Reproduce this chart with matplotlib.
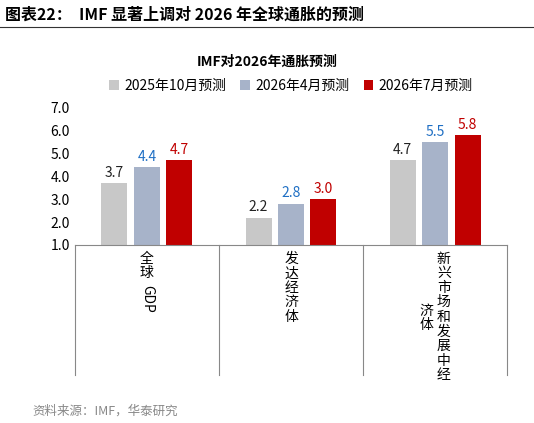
import matplotlib
matplotlib.use("Agg")
import matplotlib.pyplot as plt
import numpy as np

plt.rcParams["font.family"] = ["Noto Sans CJK SC", "DejaVu Sans"]

# ── Data ──────────────────────────────────────────────────────────────────
series_names = ["2025年10月预测", "2026年4月预测", "2026年7月预测"]
oct_2025 = [3.7, 2.2, 4.7]
apr_2026 = [4.4, 2.8, 5.5]
jul_2026 = [4.7, 3.0, 5.8]
colors = ["#C8C8C8", "#A7B3C9", "#C00000"]
label_colors = ["#222222", "#1F6FC4", "#C00000"]

fig = plt.figure(figsize=(5.34, 4.23), dpi=100)
ax = fig.add_axes([0.14, 0.421, 0.81, 0.324])

x = np.arange(3)
w, off = 0.18, 0.225
for k, vals in enumerate([oct_2025, apr_2026, jul_2026]):
    pos = x + (k - 1) * off
    ax.bar(pos, np.array(vals) - 1.0, bottom=1.0, width=w, color=colors[k],
           label=series_names[k])
    for p, v in zip(pos, vals):
        ax.text(p, v + 0.15, f"{v:.1f}", ha="center", va="bottom",
                fontsize=10, color=label_colors[k])

ax.set_xlim(-0.5, 2.5)
ax.set_ylim(1.0, 7.0)
ax.set_yticks(np.arange(1.0, 7.01, 1.0))
ax.set_yticklabels([f"{v:.1f}" for v in np.arange(1.0, 7.01, 1.0)], fontsize=10)
ax.set_xticks([])
for s in ["top", "right", "left"]:
    ax.spines[s].set_visible(False)
ax.spines["bottom"].set_color("#888888")
ax.tick_params(axis="y", length=0)

# group separators
for b in [-0.5, 0.5, 1.5, 2.5]:
    ax.plot([b, b], [0, -0.95], transform=ax.get_xaxis_transform(),
            color="#888888", lw=0.8, clip_on=False)

# vertical category labels
tr = ax.get_xaxis_transform()
ax.text(0, -0.05, "全\n球", ha="center", va="top", fontsize=10,
        linespacing=1.05, transform=tr)
ax.text(0, -0.29, "GDP", ha="center", va="top", fontsize=10, rotation=-90,
        transform=tr)
ax.text(1, -0.05, "\n".join("发达经济体"), ha="center", va="top", fontsize=10,
        linespacing=1.05, transform=tr)
ax.text(2.06, -0.05, "\n".join("新兴市场和发展中经"), ha="center", va="top",
        fontsize=10, linespacing=1.05, transform=tr)
ax.text(1.94, -0.43, "\n".join("济体"), ha="center", va="top",
        fontsize=10, linespacing=1.05, transform=tr)

ax.legend(loc="lower center", bbox_to_anchor=(0.5, 1.02), ncol=3, frameon=False,
          fontsize=10, handlelength=0.7, handleheight=0.7, columnspacing=1.0,
          handletextpad=0.4)

fig.text(0.5, 0.855, "IMF对2026年通胀预测", ha="center", va="center",
         fontsize=10, fontweight="bold")
fig.text(0.01, 0.965, "图表22：  IMF 显著上调对 2026 年全球通胀的预测", ha="left",
         va="center", fontsize=11.5, fontweight="bold")
fig.add_artist(plt.Line2D([0.0, 1.0], [0.935, 0.935], color="#333333", lw=0.8))
fig.text(0.06, 0.028, "资料来源：IMF，华泰研究", ha="left", va="center",
         fontsize=9, color="#888888")

fig.savefig("out.png", dpi=100)
